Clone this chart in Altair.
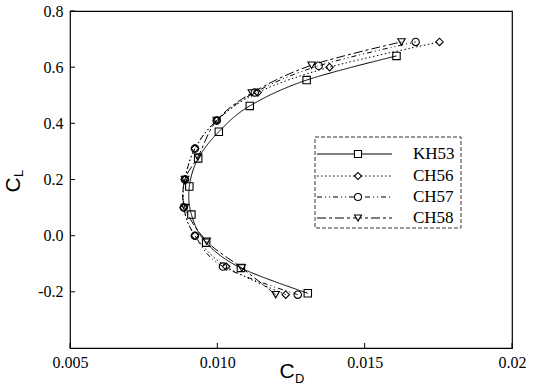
import altair as alt
import pandas as pd

# ---- data ----
series_names = ["KH53", "CH56", "CH57", "CH58"]

kh53_cl = [-0.205, -0.115, -0.025, 0.075, 0.175, 0.275, 0.37, 0.462, 0.554, 0.64]
kh53_cd = [0.01307, 0.01080, 0.00962, 0.00912, 0.00905, 0.00935, 0.01005, 0.01110, 0.01303, 0.01608]

ch56_cl = [-0.21, -0.11, 0.0, 0.1, 0.2, 0.31, 0.41, 0.51, 0.60, 0.69]
ch56_cd = [0.01232, 0.01030, 0.00924, 0.00886, 0.00890, 0.00924, 0.00998, 0.01137, 0.01381, 0.01754]

ch57_cl = [-0.21, -0.11, 0.0, 0.1, 0.2, 0.31, 0.41, 0.51, 0.605, 0.69]
ch57_cd = [0.01273, 0.01019, 0.00924, 0.00886, 0.00890, 0.00924, 0.00998, 0.01127, 0.01344, 0.01673]

ch58_cl = [-0.21, -0.115, -0.02, 0.1, 0.2, 0.28, 0.41, 0.508, 0.607, 0.69]
ch58_cd = [0.01198, 0.01083, 0.00964, 0.00890, 0.00890, 0.00934, 0.00998, 0.01117, 0.01320, 0.01625]

x_ticks = [0.005, 0.010, 0.015, 0.020]
y_ticks = [-0.2, 0.0, 0.2, 0.4, 0.6, 0.8]

shapes = ["square", "diamond", "circle", "triangle-down"]
dashes = [[1, 0], [1.5, 2.5], [5, 3, 1, 3, 1, 3], [9, 3, 3, 3]]

rows = []
for name, cls, cds in [("KH53", kh53_cl, kh53_cd), ("CH56", ch56_cl, ch56_cd),
                       ("CH57", ch57_cl, ch57_cd), ("CH58", ch58_cl, ch58_cd)]:
    for cl, cd in zip(cls, cds):
        rows.append({"series": name, "cd": cd, "cl": cl})
df = pd.DataFrame(rows)

W, H = 442, 337

xs = alt.Scale(domain=[0.005, 0.02], nice=False, zero=False)
ys = alt.Scale(domain=[-0.4, 0.8], nice=False, zero=False)
xaxis = alt.Axis(values=x_ticks, ticks=False, domain=False, grid=False,
                 labelExpr="abs(datum.value - 0.02) < 1e-9 ? '0.02' : format(datum.value, '.3f')",
                 labelFont="Liberation Serif", labelFontSize=16, labelColor="black",
                 labelPadding=6, labelFlush=False, labelOverlap=False)
yaxis = alt.Axis(values=y_ticks, ticks=False, domain=False, grid=False,
                 labelExpr="replace(format(datum.value, '.1f'), '\u2212', '-')",
                 labelFont="Liberation Serif", labelFontSize=16, labelColor="black",
                 labelPadding=7, labelFlush=False, labelOverlap=False)


def X(field):
    return alt.X(field, type="quantitative", scale=xs, axis=xaxis, title=None)


def Y(field):
    return alt.Y(field, type="quantitative", scale=ys, axis=yaxis, title=None)


base = alt.Chart(df)
lines = base.mark_line(interpolate="cardinal", color="black", strokeWidth=1).encode(
    x=X("cd"), y=Y("cl"),
    strokeDash=alt.StrokeDash("series:N", scale=alt.Scale(domain=series_names, range=dashes), legend=None),
    order=alt.Order("cl:Q"),
)
points = base.mark_point(filled=False, color="black", size=55, strokeWidth=1.1, opacity=1).encode(
    x=X("cd"), y=Y("cl"),
    shape=alt.Shape("series:N", scale=alt.Scale(domain=series_names, range=shapes), legend=None),
)

# inward ticks
xt = alt.Chart(pd.DataFrame({"v": x_ticks})).mark_rule(color="black", strokeWidth=1).encode(
    x=X("v"), y=alt.value(H), y2=alt.value(H - 5))
yt = alt.Chart(pd.DataFrame({"v": y_ticks})).mark_rule(color="black", strokeWidth=1).encode(
    y=Y("v"), x=alt.value(0), x2=alt.value(5))

one = pd.DataFrame({"a": [0]})


def txt(text, x, y, size, font, angle=0, align="left", baseline="alphabetic"):
    kw = dict(text=text, fontSize=size, font=font, color="black", align=align, baseline=baseline)
    if angle:
        kw["angle"] = angle
    return alt.Chart(one).mark_text(**kw).encode(x=alt.value(x), y=alt.value(y))


titles = [
    txt("C", 217, 367, 21, "Liberation Sans", align="center"),
    txt("D", 225, 372, 13, "Liberation Sans"),
    txt("C", -50, 174, 21, "Liberation Sans", angle=270, align="center"),
    txt("L", -47, 166, 13, "Liberation Sans", angle=270),
]

# legend
legend_layers = [
    alt.Chart(one).mark_rect(fill="white", stroke="black", strokeWidth=0.8, strokeDash=[4, 2]).encode(
        x=alt.value(245), x2=alt.value(391), y=alt.value(126), y2=alt.value(217))
]
row_y = [143, 165, 186, 207]
for name, shp, dsh, ry in zip(series_names, shapes, dashes, row_y):
    legend_layers.append(alt.Chart(one).mark_rule(color="black", strokeWidth=1, strokeDash=dsh).encode(
        x=alt.value(247), x2=alt.value(322), y=alt.value(ry)))
    legend_layers.append(alt.Chart(one).mark_point(shape=shp, filled=False, fill="white", color="black",
                                                   size=50, strokeWidth=1.1, opacity=1).encode(
        x=alt.value(288), y=alt.value(ry)))
    legend_layers.append(txt(name, 343, ry, 17, "Liberation Serif", baseline="middle"))

chart = alt.layer(lines, points, xt, yt, *titles, *legend_layers).properties(
    width=W, height=H,
    autosize=alt.AutoSizeParams(type="none"),
    padding={"left": 70, "top": 11, "right": 24, "bottom": 42},
    background="white",
).configure_view(stroke="black", strokeWidth=1.2)

chart.save("out.html", embed_options={"renderer": "svg", "actions": False})
